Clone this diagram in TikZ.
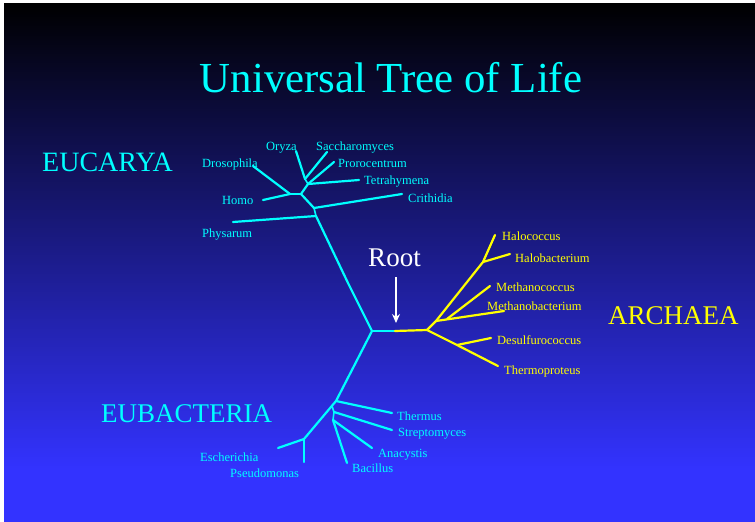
\documentclass[tikz,border=0pt]{standalone}
\usepackage{fontspec}
\setmainfont{Liberation Serif}
\usetikzlibrary{arrows.meta}
\definecolor{bgblue}{RGB}{51,51,255}
\definecolor{tcyan}{RGB}{0,255,255}
\definecolor{lyellow}{RGB}{255,255,0}
\begin{document}
\begin{tikzpicture}[x=1pt,y=-1pt,
  branch/.style={draw=tcyan,line width=2.2pt,line cap=round},
  abranch/.style={draw=lyellow,line width=2.2pt,line cap=round},
  stem/.style={draw=tcyan,line width=1.6pt},
  lab/.style={anchor=base west,inner sep=0pt,text=tcyan,font=\fontsize{12.5}{14}\selectfont},
  alab/.style={anchor=base west,inner sep=0pt,text=lyellow,font=\fontsize{12.5}{14}\selectfont},
  biglab/.style={anchor=base west,inner sep=0pt,font=\fontsize{27}{30}\selectfont}]
\useasboundingbox (0,0) rectangle (755,522);
\fill[white] (0,0) rectangle (755,522);
\shade[top color=black,bottom color=bgblue] (4,3) rectangle (755,470);
\fill[bgblue] (4,469.5) rectangle (755,522);

% title and big labels
\node[anchor=base,inner sep=0pt,text=tcyan,font=\fontsize{42.8}{48}\selectfont] (title) at (391,92) {Universal Tree of Life};
\node[biglab,text=tcyan,font=\fontsize{28}{30}\selectfont] (euc) at (42,171) {EUCARYA};
\node[biglab,text=tcyan] (eub) at (101,422) {EUBACTERIA};
\node[biglab,text=lyellow] (arc) at (608,324) {ARCHAEA};
\node[anchor=base,inner sep=0pt,text=white,font=\fontsize{27}{30}\selectfont] (rootlab) at (394.5,266) {Root};

% Eucarya coordinates
\coordinate (oryzaT) at (296,151);
\coordinate (saccT) at (327,152);
\coordinate (proroT) at (334,162);
\coordinate (tetraT) at (359,180);
\coordinate (drosT) at (253,166);
\coordinate (homoT) at (263,200);
\coordinate (crithT) at (402,194);
\coordinate (physT) at (233,222);
\coordinate (e1) at (305,179);
\coordinate (e2) at (308,184);
\coordinate (e3) at (301,194);
\coordinate (e4) at (290,194);
\coordinate (e5) at (314,208);
\coordinate (e6) at (316,216);
\coordinate (k1) at (348,283);
\coordinate (R) at (372,331);
\coordinate (Rm) at (395,331);
\coordinate (A0) at (427,330);

\draw[branch] (oryzaT) -- (e1);
\draw[branch] (saccT) -- (e1);
\draw[branch] (proroT) -- (e2);
\draw[branch] (tetraT) -- (e2);
\draw[stem] (e1) -- (e2);
\draw[branch] (e2) -- (e3);
\draw[branch] (drosT) -- (e4);
\draw[branch] (homoT) -- (e4);
\draw[branch] (e4) -- (e3);
\draw[branch] (e3) -- (e5);
\draw[branch] (crithT) -- (e5);
\draw[stem] (e5) -- (e6);
\draw[branch] (physT) -- (e6);
\draw[branch] (e6) -- (k1) -- (R);
\draw[branch] (R) -- (Rm);
\draw[abranch] (Rm) -- (A0);

% Archaea
\coordinate (a1) at (436,321);
\coordinate (a2) at (483,262);
\coordinate (a3) at (447,319);
\coordinate (a4) at (457,345);
\coordinate (halocT) at (495,235);
\coordinate (halobT) at (510,254);
\coordinate (mcocT) at (490,286);
\coordinate (mbacT) at (504,311);
\coordinate (desT) at (491,338);
\coordinate (thermpT) at (498,366);
\draw[abranch] (A0) -- (a1) -- (a2) -- (halocT);
\draw[abranch] (a2) -- (halobT);
\draw[abranch] (a1) -- (mbacT);
\draw[abranch] (a3) -- (mcocT);
\draw[abranch] (A0) -- (a4) -- (thermpT);
\draw[abranch] (a4) -- (desT);

% Eubacteria
\coordinate (t1) at (336,401);
\coordinate (b5) at (304,439);
\coordinate (s0) at (332,406);
\coordinate (t2) at (334,412);
\coordinate (t3) at (333,420);
\coordinate (thermT) at (392,413);
\coordinate (streptT) at (392,430);
\coordinate (anacT) at (372,448);
\coordinate (bacT) at (347,463);
\coordinate (eschT) at (278,448);
\coordinate (pseuT) at (304,462);
\draw[branch] (R) -- (t1) -- (b5);
\draw[branch] (t1) -- (thermT);
\draw[stem] (s0) -- (t2) -- (t3);
\draw[branch] (t2) -- (streptT);
\draw[branch] (t3) -- (anacT);
\draw[branch] (t3) -- (bacT);
\draw[branch] (b5) -- (eschT);
\draw[branch] (b5) -- (pseuT);

% Root arrow
\coordinate (arrS) at (396,277);
\coordinate (arrE) at (396,323);
\draw[white,line width=1.3pt,-{Stealth[length=9pt,width=8pt]}] (arrS) -- (arrE);

% labels
\node[lab] (oryza) at (266,150) {Oryza};
\node[lab] (sacc) at (316,150) {Saccharomyces};
\node[lab] (dros) at (202,167) {Drosophila};
\node[lab] (proro) at (338,167) {Prorocentrum};
\node[lab] (tetra) at (364,184) {Tetrahymena};
\node[lab] (homo) at (222,204) {Homo};
\node[lab] (crith) at (408,202) {Crithidia};
\node[lab] (phys) at (202,237) {Physarum};

\node[alab] (haloc) at (502,240) {Halococcus};
\node[alab] (halob) at (515,262) {Halobacterium};
\node[alab] (mcoc) at (496,291) {Methanococcus};
\node[alab] (mbac) at (487,310) {Methanobacterium};
\node[alab] (desu) at (497,344) {Desulfurococcus};
\node[alab] (thermp) at (504,374) {Thermoproteus};

\node[lab] (therm) at (397,420) {Thermus};
\node[lab] (strept) at (398,436) {Streptomyces};
\node[lab] (anac) at (378,457) {Anacystis};
\node[lab] (bac) at (352,472) {Bacillus};
\node[lab] (esch) at (200,461) {Escherichia};
\node[lab] (pseu) at (230,477) {Pseudomonas};
\end{tikzpicture}
\end{document}
